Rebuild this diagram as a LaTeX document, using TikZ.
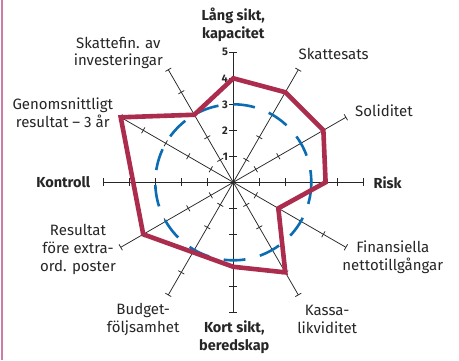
\documentclass[tikz,border=0pt]{standalone}
\usepackage{fontspec}
\setmainfont{Fira Sans}
\definecolor{polyred}{RGB}{172,44,78}
\definecolor{ringblue}{RGB}{12,108,178}
\definecolor{framepink}{RGB}{205,125,165}
\begin{document}
\begin{tikzpicture}[x=1pt,y=-1pt,
  lab/.style={align=center, inner sep=0pt, font=\fontsize{15}{17.7}\selectfont, text=black!85},
  blab/.style={lab, font=\fontsize{14.5}{17.7}\selectfont\bfseries},
  num/.style={inner sep=0pt, anchor=east, font=\fontsize{11}{12}\selectfont\bfseries, text=black!85},
  diag/.style={line width=0.75pt, black!85},
  mainaxis/.style={line width=1.4pt, black!85},
  ring/.style={ringblue, line width=2.6pt, dash pattern=on 21.8pt off 14.95pt},
  poly/.style={polyred, line width=4.6pt, line join=miter}]
\useasboundingbox (0,0) rectangle (459,360);
\fill[white] (0,0) rectangle (459,360);
\draw[framepink, line width=2pt] (2,0) -- (2,360);

\begin{scope}[shift={(233.3,182.3)}, x=26pt, y=26pt]
  \coordinate (O) at (0,0);
  % diagonal axes
  \foreach \a in {30,60,120,150,210,240,300,330} {
    \draw[diag] (O) -- (\a:5);
    \foreach \r in {1,...,5} \draw[diag, rotate=\a] (\r,-0.13) -- (\r,0.13);
  }
  % main axes
  \foreach \a in {0,90,180,270} {
    \draw[mainaxis] (O) -- (\a:5);
    \foreach \r in {1,...,5} \draw[mainaxis, rotate=\a] (\r,-0.15) -- (\r,0.15);
  }
  % scale numbers
  \foreach \r in {1,...,5} \node[num] (n\r) at (-0.2,\r) {\r};
  % reference ring
  \draw[ring, rotate=-7] (O) circle (3);
  % data polygon
  \draw[poly] (90:4) -- (60:4) -- (30:4) -- (0:3.55) -- (-30:2) -- (-60:4)
     -- (-90:3.25) -- (-150:4) -- (150:5) -- (120:3) -- cycle;
\end{scope}

\node[blab] (top) at (233.3,24.5) {Lång sikt,\\kapacitet};
\node[lab] (l120) at (118.3,53) {Skattefin. av\\investeringar};
\node[lab] (l60) at (333.7,54.3) {Skattesats};
\node[lab] (l30) at (384,110.7) {Soliditet};
\node[blab] (l0) at (387.7,182.7) {Risk};
\node[lab] (l330) at (392.8,257.5) {Finansiella\\nettotillgångar};
\node[lab] (l300) at (327.2,319.5) {Kassa-\\likviditet};
\node[blab] (bot) at (234.3,337.5) {Kort sikt,\\beredskap};
\node[lab] (l240) at (143.2,319.7) {Budget-\\följsamhet};
\node[lab] (l210) at (78,249.5) {Resultat\\före extra-\\ord. poster};
\node[blab] (l180) at (63.3,182.3) {Kontroll};
\node[lab] (l150) at (62.8,112.8) {Genomsnittligt\\resultat – 3 år};
\end{tikzpicture}
\end{document}
